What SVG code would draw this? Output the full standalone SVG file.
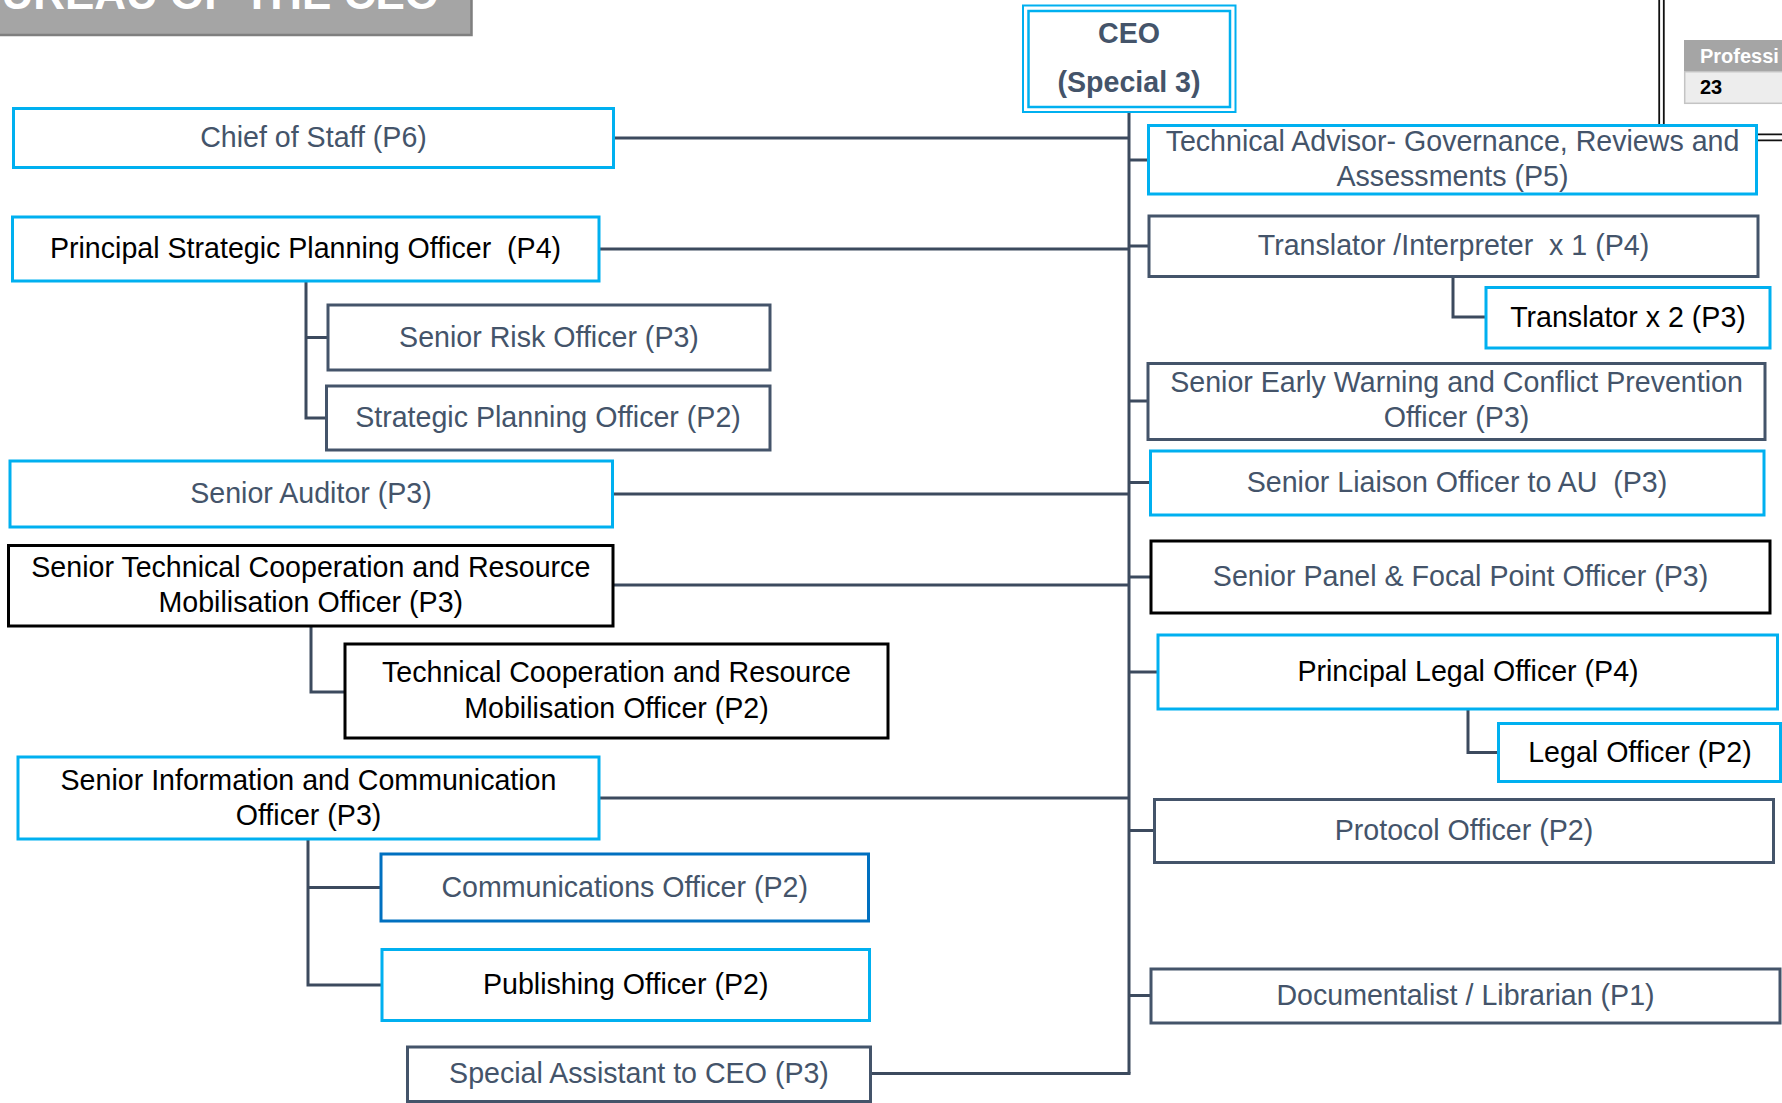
<svg xmlns="http://www.w3.org/2000/svg" width="1782" height="1103" viewBox="0 0 1782 1103">
<style>
  text { font-family: "Liberation Sans", Arial, sans-serif; font-size: 28.6px; text-anchor: middle; white-space: pre; }
  .s { fill: #44546a; }
  .k { fill: #000000; }
  .box { fill: #ffffff; stroke-width: 3; }
  .cy { stroke: #00b0f0; }
  .sl { stroke: #44546a; }
  .bk { stroke: #000000; }
  .bl { stroke: #0070c0; }
  .ln { fill: none; stroke: #3c4a5e; stroke-width: 3; }
  .dbl { fill: none; stroke: #111111; stroke-width: 1.8; }
</style>

<!-- background page elements -->
<g id="title">
  <rect x="-3" y="-3" width="474.5" height="38" fill="#a5a5a5" stroke="#7f7f7f" stroke-width="2.5"/>
  <text x="439" y="8.5" style="text-anchor:end;font-weight:bold;font-size:44px;fill:#ffffff">BUREAU OF THE CEO</text>
</g>
<g id="frame-lines">
  <path class="dbl" d="M1659.2 0 V140.3 H1782"/>
  <path class="dbl" d="M1663.8 0 V134.3 H1782"/>
</g>
<g id="summary-table">
  <rect x="1684" y="40" width="100" height="31.7" fill="#a5a5a5"/>
  <rect x="1684.7" y="71.7" width="100" height="31.6" fill="#ededed" stroke="#c4c4c4" stroke-width="1.5"/>
  <text x="1700" y="63" style="text-anchor:start;font-weight:bold;font-size:20px;fill:#ffffff">Professi</text>
  <text x="1700" y="94" style="text-anchor:start;font-weight:bold;font-size:20px;fill:#000000">23</text>
</g>

<!-- connectors -->
<g id="connectors">
  <path class="ln" d="M1129 112 V1073.5"/>
  <path class="ln" d="M613.5 138 H1129"/>
  <path class="ln" d="M599 249 H1129"/>
  <path class="ln" d="M612.5 494 H1129"/>
  <path class="ln" d="M613 585 H1129"/>
  <path class="ln" d="M598.5 798 H1129"/>
  <path class="ln" d="M871 1073.5 H1130.5"/>
  <path class="ln" d="M1129 160 H1148.5"/>
  <path class="ln" d="M1129 246 H1149"/>
  <path class="ln" d="M1129 401 H1148"/>
  <path class="ln" d="M1129 482.5 H1150.5"/>
  <path class="ln" d="M1129 577 H1151"/>
  <path class="ln" d="M1129 672 H1158"/>
  <path class="ln" d="M1129 830.5 H1154.5"/>
  <path class="ln" d="M1129 995.5 H1151"/>
  <path class="ln" d="M306 281 V418 H326.5 M306 337.5 H328"/>
  <path class="ln" d="M311 626 V692 H345"/>
  <path class="ln" d="M308 839 V985 H382 M308 887.5 H381"/>
  <path class="ln" d="M1453 276.5 V317 H1486"/>
  <path class="ln" d="M1468 709 V752.5 H1498.5"/>
</g>

<!-- nodes -->
<g id="ceo">
  <rect x="1023" y="5.5" width="212.5" height="106.5" fill="#ffffff" stroke="#00b0f0" stroke-width="2"/>
  <rect x="1028.5" y="11" width="201.5" height="96" fill="none" stroke="#00b0f0" stroke-width="2.5"/>
  <text x="1129" y="43" class="s" style="font-weight:bold">CEO</text>
  <text x="1129" y="91.5" class="s" style="font-weight:bold">(Special 3)</text>
</g>
<g id="chief-of-staff">
  <rect class="box cy" x="13.5" y="108.5" width="600" height="59"/>
  <text class="s" x="313.5" y="147">Chief of Staff (P6)</text>
</g>
<g id="principal-strategic-planning">
  <rect class="box cy" x="12.5" y="217" width="586.5" height="64"/>
  <text class="k" x="305.5" y="258">Principal Strategic Planning Officer  (P4)</text>
</g>
<g id="senior-risk">
  <rect class="box sl" x="328" y="305" width="442" height="65"/>
  <text class="s" x="549" y="347">Senior Risk Officer (P3)</text>
</g>
<g id="strategic-planning">
  <rect class="box sl" x="326.5" y="386" width="443.5" height="64"/>
  <text class="s" x="548" y="427">Strategic Planning Officer (P2)</text>
</g>
<g id="senior-auditor">
  <rect class="box cy" x="10" y="461" width="602.5" height="66"/>
  <text class="s" x="311" y="503">Senior Auditor (P3)</text>
</g>
<g id="senior-tech-coop">
  <rect class="box bk" x="8.5" y="545.5" width="604.5" height="80.5"/>
  <text class="k" x="310.8" y="577">Senior Technical Cooperation and Resource</text>
  <text class="k" x="310.8" y="612">Mobilisation Officer (P3)</text>
</g>
<g id="tech-coop">
  <rect class="box bk" x="345" y="644" width="543" height="94"/>
  <text class="k" x="616.5" y="682">Technical Cooperation and Resource</text>
  <text class="k" x="616.5" y="718">Mobilisation Officer (P2)</text>
</g>
<g id="senior-info-comm">
  <rect class="box cy" x="18" y="757" width="581" height="82"/>
  <text class="k" x="308.5" y="790">Senior Information and Communication</text>
  <text class="k" x="308.5" y="825">Officer (P3)</text>
</g>
<g id="communications">
  <rect class="box bl" x="381" y="854" width="487.5" height="67"/>
  <text class="s" x="624.7" y="896.5">Communications Officer (P2)</text>
</g>
<g id="publishing">
  <rect class="box cy" x="382" y="949.5" width="487.5" height="71"/>
  <text class="k" x="625.7" y="994">Publishing Officer (P2)</text>
</g>
<g id="special-assistant">
  <rect class="box sl" x="407.5" y="1047" width="463" height="54.5"/>
  <text class="s" x="639" y="1083">Special Assistant to CEO (P3)</text>
</g>
<g id="technical-advisor">
  <rect class="box cy" x="1148.5" y="125.5" width="608" height="68.5"/>
  <text class="s" x="1452.5" y="150.5">Technical Advisor- Governance, Reviews and</text>
  <text class="s" x="1452.5" y="185.5">Assessments (P5)</text>
</g>
<g id="translator-interpreter">
  <rect class="box sl" x="1149" y="216" width="609" height="60.5"/>
  <text class="s" x="1453.5" y="255">Translator /Interpreter  x 1 (P4)</text>
</g>
<g id="translator">
  <rect class="box cy" x="1486" y="287.5" width="284" height="60.5"/>
  <text class="k" x="1628" y="326.5">Translator x 2 (P3)</text>
</g>
<g id="early-warning">
  <rect class="box sl" x="1148" y="363.5" width="617" height="76"/>
  <text class="s" x="1456.5" y="392">Senior Early Warning and Conflict Prevention</text>
  <text class="s" x="1456.5" y="427">Officer (P3)</text>
</g>
<g id="liaison-au">
  <rect class="box cy" x="1150.5" y="451" width="613.5" height="64"/>
  <text class="s" x="1457" y="492">Senior Liaison Officer to AU  (P3)</text>
</g>
<g id="panel-focal">
  <rect class="box bk" x="1151" y="541" width="619" height="72"/>
  <text class="s" x="1460.5" y="586">Senior Panel &amp; Focal Point Officer (P3)</text>
</g>
<g id="principal-legal">
  <rect class="box cy" x="1158" y="635" width="619.5" height="74"/>
  <text class="k" x="1468" y="681">Principal Legal Officer (P4)</text>
</g>
<g id="legal">
  <rect class="box cy" x="1498.5" y="723.5" width="282" height="58"/>
  <text class="k" x="1640" y="761.5">Legal Officer (P2)</text>
</g>
<g id="protocol">
  <rect class="box sl" x="1154.5" y="799.5" width="619" height="63"/>
  <text class="s" x="1464" y="840">Protocol Officer (P2)</text>
</g>
<g id="documentalist">
  <rect class="box sl" x="1151" y="969" width="629" height="54"/>
  <text class="s" x="1465.5" y="1005">Documentalist / Librarian (P1)</text>
</g>
</svg>
